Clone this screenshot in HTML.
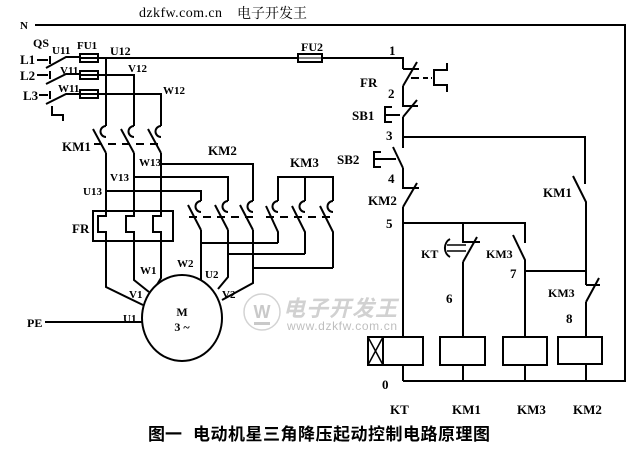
<!DOCTYPE html>
<html><head><meta charset="utf-8"><style>
html,body{margin:0;padding:0;background:#fff;}
svg{display:block;}
.l{font-family:"Liberation Serif",serif;font-weight:bold;fill:#000;}
</style></head><body>
<svg width="641" height="452" viewBox="0 0 641 452" xmlns="http://www.w3.org/2000/svg">
<rect width="641" height="452" fill="#fff"/>
<!-- header -->
<text x="139" y="17" font-family="Liberation Serif,serif" font-size="14" textLength="83">dzkfw.com.cn</text>
<text x="237" y="18" font-family="Liberation Serif,'Noto Serif CJK SC',serif" font-size="14" textLength="70">电子开发王</text>

<!-- watermark -->
<g opacity="0.9">
<circle cx="262" cy="312" r="18" fill="none" stroke="#cfcfcf" stroke-width="1.5"/>
<text x="262" y="318" text-anchor="middle" font-family="Liberation Sans,sans-serif" font-size="18" font-weight="bold" fill="#c4c4c4">W</text>
<rect x="254" y="322" width="16" height="3" fill="#c4c4c4"/>
<text x="283" y="316" font-family="Liberation Sans,'Noto Sans CJK SC',sans-serif" font-size="22" font-weight="bold" font-style="italic" fill="#cdcdcd" textLength="114">电子开发王</text>
<text x="287" y="330" font-family="Liberation Sans,sans-serif" font-size="12" fill="#b8b8b8" textLength="110">www.dzkfw.com.cn</text>
</g>

<g stroke="#000" stroke-width="2" fill="none" stroke-linejoin="miter">
<!-- N line & right border -->
<path d="M35 25 H625 V381 H403"/>

<!-- QS -->
<path d="M37 60 H48 M50 56 V64 M46 68 L66 57 H80"/>
<path d="M37 75 H48 M50 71 V79 M46 84 L66 74 H80"/>
<path d="M39 95 H48 M50 91 V99 M46 104 L66 94 H80"/>
<path d="M52 106 V115 H63 V121"/>

<!-- fuses FU1 -->
<rect x="80" y="54" width="18" height="8"/>
<rect x="80" y="71" width="18" height="8"/>
<rect x="80" y="90" width="18" height="8"/>
<path d="M80 58 H98 M80 75 H98 M80 94 H98"/>

<!-- U line to control -->
<path d="M98 58 H298 M322 58 H403 V69"/>
<rect x="298" y="54" width="24" height="8"/>
<path d="M298 58 H322" stroke-width="1"/>
<!-- V, W -->
<path d="M98 75 H134 V126 M98 94 H161 V126"/>
<path d="M106 58 V126"/>

<!-- KM1 main contacts -->
<path d="M106 126 A5.5 5.5 0 0 0 106 137 M134 126 A5.5 5.5 0 0 0 134 137 M161 126 A5.5 5.5 0 0 0 161 137"/>
<path d="M93 129 L106 153 M121 129 L134 153 M148 129 L161 153"/>
<path d="M94 144 H162" stroke-dasharray="8 6"/>

<!-- verticals below KM1 through FR -->
<path d="M106 153 V216 H98 V232 H106 V287 L143 305"/>
<path d="M134 153 V216 H126 V232 H134 V280 L149 292"/>
<path d="M161 153 V216 H153 V232 H161 V278 L155 288"/>
<rect x="93" y="211" width="80" height="30"/>

<!-- W13 V13 U13 -->
<path d="M161 164 H253 V201 M134 177 H228 V201 M106 191 H201 V201"/>

<!-- KM2 contacts -->
<path d="M201 201 A5.5 5.5 0 0 0 201 212 M228 201 A5.5 5.5 0 0 0 228 212 M253 201 A5.5 5.5 0 0 0 253 212"/>
<path d="M188 205 L201 230 M215 205 L228 230 M240 205 L253 230"/>
<path d="M189 217 H254" stroke-dasharray="8 6"/>

<!-- KM3 contacts -->
<path d="M278 201 V177 H333 V201 M305 177 V201"/>
<path d="M278 201 A5.5 5.5 0 0 0 278 212 M305 201 A5.5 5.5 0 0 0 305 212 M333 201 A5.5 5.5 0 0 0 333 212"/>
<path d="M266 206 L278 232 V243 M292 206 L305 232 V254 M320 206 L333 232 V268"/>
<path d="M266 217 H334" stroke-dasharray="8 6"/>

<!-- connections -->
<path d="M201 243 H278 M228 254 H305 M253 268 H333"/>
<path d="M201 230 V281 M228 230 V277 L218 289 M253 230 V283 L222 300"/>

<!-- PE -->
<path d="M45 322 H143"/>
<!-- motor -->
<ellipse cx="182" cy="318" rx="40" ry="43" fill="#fff"/>

<!-- Control circuit -->
<!-- FR NC -->
<path d="M403 69 H419 M403 86 L417 62 M411 78 H419"/>
<path d="M423 78 H432" stroke-dasharray="5 3"/>
<path d="M447 63 V70 H434 V85 H447 V92"/>
<!-- SB1 NC -->
<path d="M403 86 V106 H418 M403 117 L417 100"/>
<path d="M392 107 H385 V122 H392 M385 115 H400"/>
<!-- node 3 -->
<path d="M403 117 V148 M403 137 H585 V184"/>
<!-- SB2 NO -->
<path d="M393 147 L403 168"/>
<path d="M381 152 H374 V167 H381 M374 159 H396"/>
<!-- KM2 NC -->
<path d="M403 168 V188 H419 M403 207 L417 183"/>
<path d="M403 207 V337"/>
<!-- KM1 NO -->
<path d="M573 176 L586 202 V285"/>
<!-- node 5 -->
<path d="M403 223 H525 V243 M463 223 V242 H480 M463 262 L477 237 M463 262 V337"/>
<path d="M450 239 A9 10 0 0 0 450 257"/>
<path d="M447 245 H466 M447 251 H466" stroke-width="1.6"/>
<!-- KM3 NO -->
<path d="M513 235 L525 260 V337"/>
<!-- node 7 -->
<path d="M525 271 H586"/>
<!-- KM3 NC -->
<path d="M586 285 H600 M586 302 L599 278 M586 302 V337"/>

<!-- coils -->
<rect x="368" y="337" width="15" height="28"/>
<path d="M368 337 L383 365 M383 337 L368 365" stroke-width="1.5"/>
<rect x="383" y="337" width="40" height="28"/>
<rect x="440" y="337" width="45" height="28"/>
<rect x="503" y="337" width="44" height="28"/>
<rect x="558" y="337" width="44" height="27"/>
<path d="M403 365 V381 M463 365 V381 M525 365 V381 M586 364 V381"/>
</g>

<!-- labels -->
<g class="l">
<text x="20" y="29" font-size="11">N</text>
<text x="33" y="47" font-size="12">QS</text>
<text x="52" y="54" font-size="11">U11</text>
<text x="77" y="49" font-size="11">FU1</text>
<text x="110" y="55" font-size="12">U12</text>
<text x="20" y="64" font-size="13">L1</text>
<text x="20" y="80" font-size="13">L2</text>
<text x="23" y="100" font-size="13">L3</text>
<text x="60" y="74" font-size="11">V11</text>
<text x="58" y="92" font-size="11">W11</text>
<text x="128" y="72" font-size="11">V12</text>
<text x="163" y="94" font-size="11">W12</text>
<text x="301" y="51" font-size="12">FU2</text>
<text x="389" y="55" font-size="13">1</text>
<text x="62" y="151" font-size="13">KM1</text>
<text x="208" y="155" font-size="13">KM2</text>
<text x="290" y="167" font-size="13">KM3</text>
<text x="139" y="166" font-size="11">W13</text>
<text x="110" y="181" font-size="11">V13</text>
<text x="83" y="195" font-size="11">U13</text>
<text x="72" y="233" font-size="13">FR</text>
<text x="140" y="274" font-size="11">W1</text>
<text x="129" y="298" font-size="11">V1</text>
<text x="123" y="322" font-size="11">U1</text>
<text x="27" y="327" font-size="12">PE</text>
<text x="177" y="267" font-size="11">W2</text>
<text x="205" y="278" font-size="11">U2</text>
<text x="222" y="298" font-size="11">V2</text>
<text x="182" y="316" font-size="12" text-anchor="middle">M</text>
<text x="182" y="331" font-size="12" text-anchor="middle">3 ~</text>

<text x="360" y="87" font-size="13">FR</text>
<text x="388" y="98" font-size="13">2</text>
<text x="352" y="120" font-size="13">SB1</text>
<text x="386" y="140" font-size="13">3</text>
<text x="337" y="164" font-size="13">SB2</text>
<text x="388" y="183" font-size="13">4</text>
<text x="368" y="205" font-size="13">KM2</text>
<text x="386" y="228" font-size="13">5</text>
<text x="543" y="197" font-size="13">KM1</text>
<text x="421" y="258" font-size="12">KT</text>
<text x="486" y="258" font-size="12">KM3</text>
<text x="446" y="303" font-size="13">6</text>
<text x="510" y="278" font-size="13">7</text>
<text x="548" y="297" font-size="12">KM3</text>
<text x="566" y="323" font-size="13">8</text>
<text x="382" y="389" font-size="13">0</text>
<text x="390" y="414" font-size="13">KT</text>
<text x="452" y="414" font-size="13">KM1</text>
<text x="517" y="414" font-size="13">KM3</text>
<text x="573" y="414" font-size="13">KM2</text>
</g>

<!-- title -->
<text x="148" y="440" font-family="Liberation Sans,'Noto Sans CJK SC',sans-serif" font-size="17" font-weight="bold" textLength="34">图一</text>
<text x="193" y="440" font-family="Liberation Sans,'Noto Sans CJK SC',sans-serif" font-size="17" font-weight="bold" textLength="297">电动机星三角降压起动控制电路原理图</text>
</svg>
</body></html>
